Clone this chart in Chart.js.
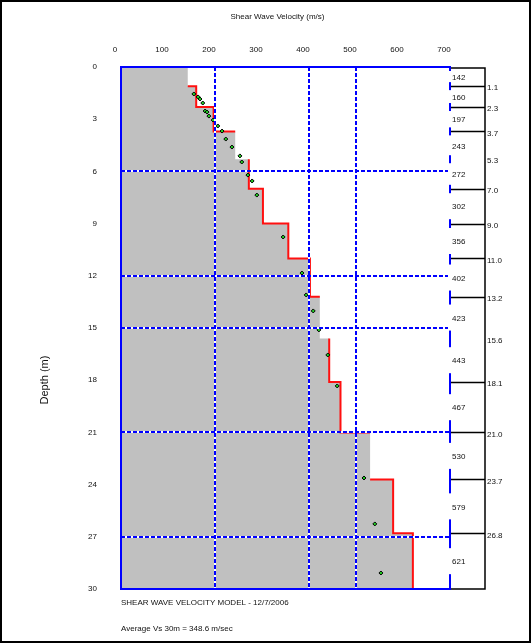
<!DOCTYPE html>
<html>
<head>
<meta charset="utf-8">
<script src="https://cdn.jsdelivr.net/npm/chart.js@4.4.1/dist/chart.umd.min.js"></script>
<style>
  html, body { margin: 0; padding: 0; background: #ffffff; }
  #wrap { position: relative; width: 531px; height: 643px; }
  canvas { display: block; }
</style>
</head>
<body>
<div id="wrap"><canvas id="vsChart" width="531" height="643"></canvas></div>
<script>
// Layered shear-wave velocity model (velocity of each layer and depth of its base)
const layerVs     = [142, 160, 197, 243, 272, 302, 356, 402, 423, 443, 467, 530, 579, 621];
const layerBottom = [1.1, 2.3, 3.7, 5.3, 7.0, 9.0, 11.0, 13.2, 15.6, 18.1, 21.0, 23.7, 26.8, 30.0];
// Layer boundaries that carry a tick in the side column
const tickedDepths = [1.1, 2.3, 3.7, 7.0, 9.0, 11.0, 13.2, 18.1, 21.0, 23.7, 26.8];

// Fitted trace (null = break in the trace)
const fitVs    = [142, 160, 160, 197, 197, 243, null, 272, 272, 302, 302, 356, 356, 402, 402, 423, null, 443, 443, 467, 467, 530, null, 530, 579, 579, 621, 621];
const fitDepth = [1.1, 1.1, 2.3, 2.3, 3.7, 3.7, null, 5.3, 7.0, 7.0, 9.0, 9.0, 11.0, 11.0, 13.2, 13.2, null, 15.6, 18.1, 18.1, 21.0, 21.0, null, 23.7, 23.7, 26.8, 26.8, 30.0];

// Measured points
const measVs    = [155, 164, 168, 174, 179, 183, 187, 196, 206, 215, 223, 236, 253, 257, 270, 279, 289, 345, 385, 394, 409, 421, 440, 460, 517, 540, 553];
const measDepth = [1.55, 1.72, 1.84, 2.07, 2.53, 2.59, 2.82, 3.05, 3.39, 3.68, 4.14, 4.60, 5.11, 5.46, 6.21, 6.55, 7.36, 9.77, 11.84, 13.10, 14.02, 15.11, 16.55, 18.33, 23.62, 26.26, 29.08];

// Axis ticks and reference lines
const vsTicks    = [0, 100, 200, 300, 400, 500, 600, 700];
const depthTicks = [0, 3, 6, 9, 12, 15, 18, 21, 24, 27, 30];
const vsGrid     = [200, 400, 500];
const depthGrid  = [6, 12, 15, 21, 27];

const xTitle = 'Shear Wave Velocity (m/s)';
const yTitle = 'Depth (m)';
const noteModel = 'SHEAR WAVE VELOCITY MODEL - 12/7/2006';
const vs30 = '348.6';
const noteAverage = 'Average Vs 30m = ' + vs30 + ' m/sec';

// Step outline of the layered model
const profile = [];
let prevDepth = 0;
layerVs.forEach((v, i) => {
  profile.push({ x: v, y: prevDepth });
  profile.push({ x: v, y: layerBottom[i] });
  prevDepth = layerBottom[i];
});
const fitLine = fitVs.map((v, i) => ({ x: v, y: fitDepth[i] }));
const measured = measVs.map((v, i) => ({ x: v, y: measDepth[i] }));

const FONT = '"Liberation Sans", Arial, sans-serif';

// White backing under the dashed reference lines
const gridBacking = {
  id: 'gridBacking',
  afterDatasetsDraw(chart) {
    const { ctx, chartArea: a, scales: { x, y } } = chart;
    ctx.save();
    ctx.strokeStyle = '#ffffff';
    ctx.lineWidth = 2;
    vsGrid.forEach(v => {
      const px = Math.round(x.getPixelForValue(v));
      ctx.beginPath(); ctx.moveTo(px, a.top); ctx.lineTo(px, a.bottom); ctx.stroke();
    });
    depthGrid.forEach(d => {
      const py = Math.round(y.getPixelForValue(d));
      ctx.beginPath(); ctx.moveTo(a.left, py); ctx.lineTo(a.right, py); ctx.stroke();
    });
    ctx.restore();
  }
};

// Plot frame, layer column on the right, axis titles, notes and outer frame
const annotations = {
  id: 'annotations',
  afterDraw(chart) {
    const { ctx, chartArea: a, scales: { y } } = chart;
    const colRight = a.right + 35;
    ctx.save();

    // blue frame of the plot area
    ctx.strokeStyle = '#0000ff';
    ctx.lineWidth = 2;
    ctx.strokeRect(a.left, a.top, a.right - a.left, a.bottom - a.top);

    // layer velocity labels (white boxes interrupt the right edge)
    ctx.font = '8px ' + FONT;
    ctx.textBaseline = 'middle';
    ctx.textAlign = 'left';
    let top = 0;
    layerVs.forEach((v, i) => {
      const y0 = y.getPixelForValue(top);
      const y1 = y.getPixelForValue(layerBottom[i]);
      const mid = (y0 + y1) / 2;
      const h = Math.min(y1 - y0 - 8, 26);
      ctx.fillStyle = '#ffffff';
      ctx.fillRect(a.right - 2, mid - h / 2, 30, h);
      ctx.fillStyle = '#111111';
      ctx.fillText(String(v), a.right + 2, mid + 1);
      top = layerBottom[i];
    });

    // column outline and boundary ticks
    ctx.strokeStyle = '#000000';
    ctx.lineWidth = 1.5;
    ctx.beginPath();
    ctx.moveTo(a.right + 1, a.top + 1);
    ctx.lineTo(colRight, a.top + 1);
    ctx.lineTo(colRight, a.bottom);
    ctx.lineTo(a.right + 1, a.bottom);
    tickedDepths.forEach(d => {
      const py = Math.round(y.getPixelForValue(d)) + 0.5;
      ctx.moveTo(a.right + 1, py);
      ctx.lineTo(colRight, py);
    });
    ctx.stroke();

    // boundary depth labels
    ctx.fillStyle = '#111111';
    layerBottom.slice(0, -1).forEach(d => {
      ctx.fillText(d.toFixed(1), colRight + 2, y.getPixelForValue(d) + 2);
    });

    // velocity axis title
    ctx.textAlign = 'center';
    ctx.font = '8px ' + FONT;
    ctx.fillText(xTitle, (a.left + a.right) / 2 - 8, 17);

    // depth axis title
    ctx.save();
    ctx.translate(45, (a.top + a.bottom) / 2 + 52);
    ctx.rotate(-Math.PI / 2);
    ctx.textAlign = 'center';
    ctx.font = '11px ' + FONT;
    ctx.fillText(yTitle, 0, 0);
    ctx.restore();

    // notes under the plot
    ctx.textAlign = 'left';
    ctx.font = '8px ' + FONT;
    ctx.fillText(noteModel, a.left, a.bottom + 14);
    ctx.fillText(noteAverage, a.left, a.bottom + 40);

    // outer frame
    ctx.strokeStyle = '#000000';
    ctx.lineWidth = 2;
    ctx.strokeRect(1, 1, chart.width - 2, chart.height - 2);
    ctx.restore();
  }
};

new Chart(document.getElementById('vsChart'), {
  type: 'line',
  data: {
    datasets: [
      {
        label: 'Measured',
        data: measured,
        showLine: false,
        pointStyle: 'rectRot',
        pointRadius: 2,
        pointBackgroundColor: '#22cc22',
        pointBorderColor: '#000000',
        pointBorderWidth: 1,
        order: 0
      },
      {
        label: 'Fit',
        data: fitLine,
        borderColor: '#ff1010',
        borderWidth: 2,
        pointRadius: 0,
        fill: false,
        spanGaps: false,
        order: 1
      },
      {
        label: 'Model',
        data: profile,
        borderColor: 'rgba(0,0,0,0)',
        borderWidth: 1,
        backgroundColor: '#c0c0c0',
        pointRadius: 0,
        fill: 'start',
        order: 2
      }
    ]
  },
  options: {
    indexAxis: 'y',
    responsive: false,
    animation: false,
    devicePixelRatio: 1,
    layout: { padding: { top: 0, left: 0, right: 81, bottom: 54 } },
    plugins: {
      legend: { display: false },
      tooltip: { enabled: false }
    },
    elements: { line: { tension: 0 } },
    scales: {
      x: {
        type: 'linear',
        position: 'top',
        min: 0,
        max: 700,
        afterBuildTicks: s => { s.ticks = vsTicks.map(v => ({ value: v })); },
        afterFit: s => { s.height = 67; },
        ticks: {
          padding: 12,
          labelOffset: -6,
          color: '#111111',
          font: { family: FONT, size: 8 }
        },
        grid: {
          drawTicks: false,
          lineWidth: 2,
          z: 1,
          color: c => (c.tick && vsGrid.includes(c.tick.value)) ? '#0000ff' : 'rgba(0,0,0,0)'
        },
        border: { display: false, dash: [4, 2] },
        title: { display: false }
      },
      y: {
        type: 'linear',
        reverse: true,
        min: 0,
        max: 30,
        afterBuildTicks: s => { s.ticks = depthTicks.map(v => ({ value: v })); },
        afterFit: s => { s.width = 121; },
        ticks: {
          padding: 24,
          color: '#111111',
          font: { family: FONT, size: 8 }
        },
        grid: {
          drawTicks: false,
          lineWidth: 2,
          z: 1,
          color: c => (c.tick && depthGrid.includes(c.tick.value)) ? '#0000ff' : 'rgba(0,0,0,0)'
        },
        border: { display: false, dash: [4, 2] },
        title: { display: false }
      }
    }
  },
  plugins: [gridBacking, annotations]
});
</script>
</body>
</html>
